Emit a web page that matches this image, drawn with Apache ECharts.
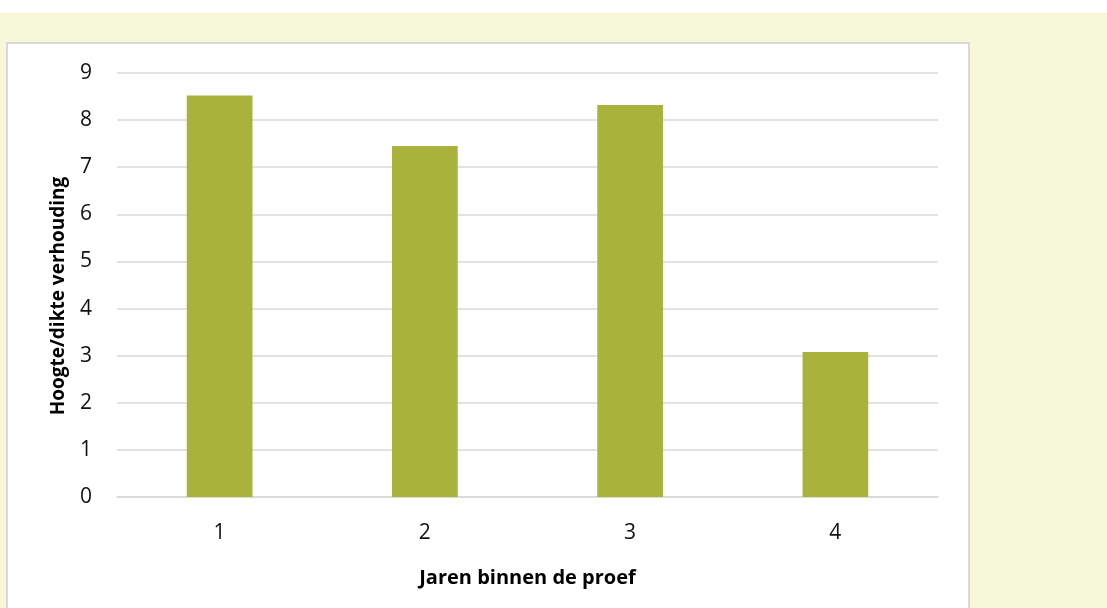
<!DOCTYPE html>
<html>
<head>
<meta charset="utf-8">
<script src="https://cdn.jsdelivr.net/npm/echarts@6/dist/echarts.min.js"></script>
<style>
	body { margin: 0; background: #ffffff; }
	#bg { position: absolute; left: 0; top: 13px; width: 1107px; height: 595px; background: #f7f7da; }
	#panel { position: absolute; left: 6px; top: 42px; width: 960px; height: 600px; background: #ffffff; border: 2px solid #d9d9d9; }
	#chart { position: absolute; left: 0; top: 0; width: 1107px; height: 608px; }
</style>
</head>
<body>
<div id="bg"></div>
<div id="panel"></div>
<div id="chart"></div>
<script>
var categories = ['1', '2', '3', '4'];
var values = [8.52, 7.45, 8.32, 3.08];
var yTicks = [0, 1, 2, 3, 4, 5, 6, 7, 8, 9];

var myChart = echarts.init(document.getElementById('chart'));
var option = {
	animation: false,
	textStyle: { fontFamily: 'Open Sans' },
	grid: { left: 117, right: 169, top: 73, bottom: 111 },
	xAxis: {
		type: 'category',
		data: categories,
		name: 'Jaren binnen de proef',
		nameLocation: 'middle',
		nameGap: 71,
		nameTextStyle: { color: '#000', fontSize: 20, fontWeight: 'bold' },
		axisLine: { lineStyle: { color: '#d9d9d9', width: 1.5 } },
		axisTick: { show: false },
		axisLabel: { color: '#111', fontSize: 21, margin: 26 }
	},
	yAxis: {
		type: 'value',
		min: yTicks[0],
		max: yTicks[yTicks.length - 1],
		interval: 1,
		name: 'Hoogte/dikte verhouding',
		nameLocation: 'middle',
		nameGap: 49,
		nameTextStyle: { color: '#000', fontSize: 19, fontWeight: 'bold', padding: [0, 22, 0, 0] },
		axisLine: { show: false },
		axisTick: { show: false },
		axisLabel: { color: '#111', fontSize: 21, margin: 25 },
		splitLine: { lineStyle: { color: '#d9d9d9', width: 1.5 } }
	},
	series: [{
		type: 'bar',
		data: values,
		barWidth: '32%',
		itemStyle: { color: '#a9b23a' }
	}]
};
myChart.setOption(option);
</script>
</body>
</html>
